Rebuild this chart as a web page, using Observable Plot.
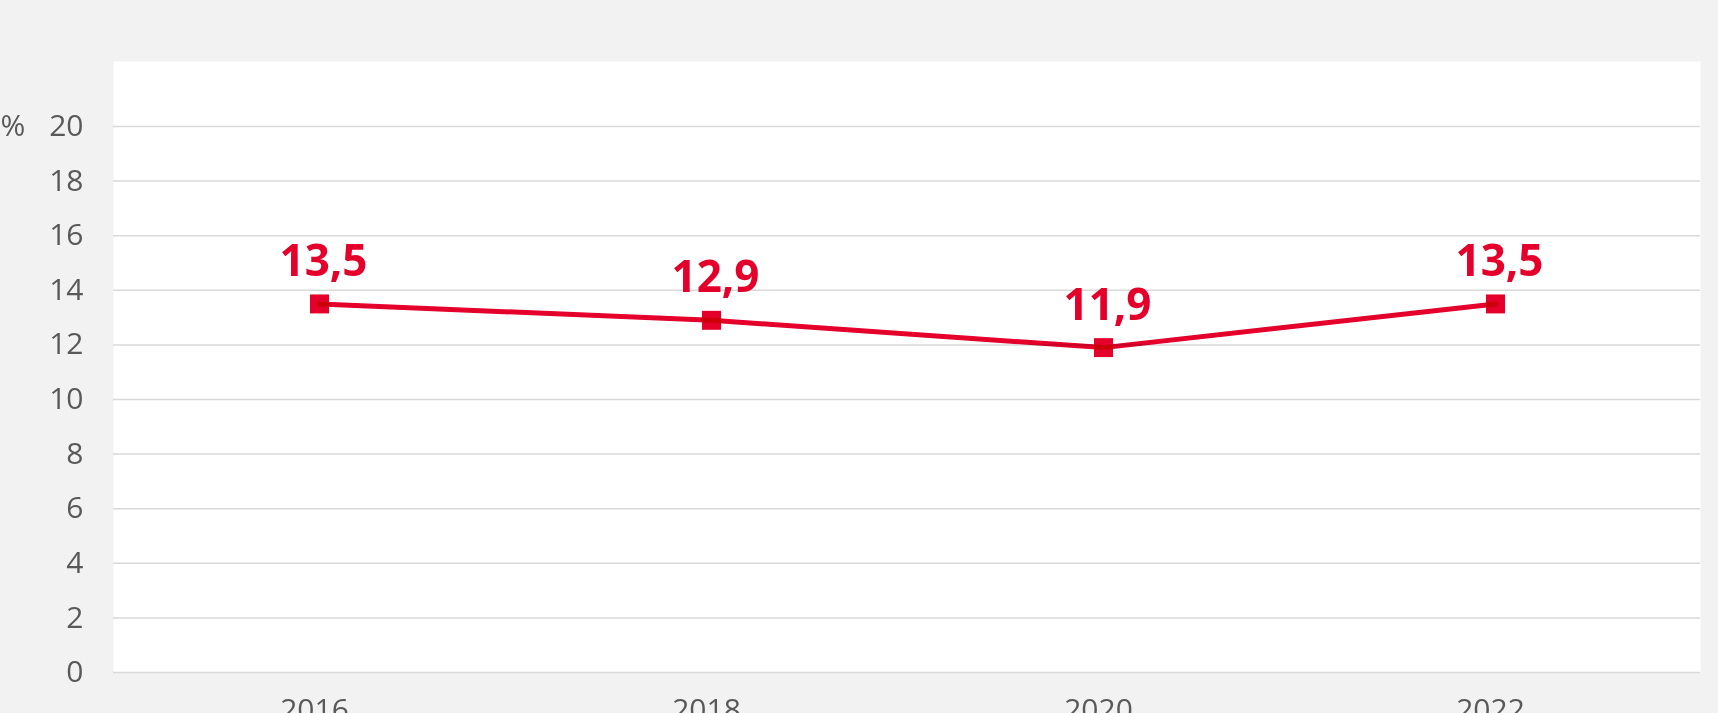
<!DOCTYPE html>
<html>
<head>
<meta charset="utf-8">
<script src="https://cdn.jsdelivr.net/npm/d3@7"></script>
<script src="https://cdn.jsdelivr.net/npm/@observablehq/plot@0.6"></script>
<style>
  html, body { margin: 0; padding: 0; background: #f2f2f2; overflow: hidden; }
  #chart svg { display: block; }
</style>
</head>
<body>
<div id="chart"></div>
<script>
const years = ["2016", "2018", "2020", "2022"];
const values = [13.5, 12.9, 11.9, 13.5];
const labels = ["13,5", "12,9", "11,9", "13,5"];
const yTicks = [0, 2, 4, 6, 8, 10, 12, 14, 16, 18, 20];
const unitLabel = ["%"];

const data = years.map((year, i) => ({year, value: values[i], label: labels[i]}));
const red = "#e4002b";

const chart = Plot.plot({
  width: 1718,
  height: 740,
  marginLeft: 113,
  marginRight: 18,
  marginTop: 61,
  marginBottom: 68,
  style: {background: "#f2f2f2", fontFamily: "'Open Sans', sans-serif", color: "#595959", overflow: "visible"},
  x: {type: "point", domain: years, padding: 0.52, label: null},
  y: {domain: [0, 22.38], label: null},
  marks: [
    Plot.frame({fill: "white", stroke: null}),
    Plot.ruleY(yTicks, {stroke: "#d9d9d9", strokeWidth: 1.5}),
    Plot.axisY({ticks: yTicks, tickSize: 0, tickPadding: 30, fontSize: 30, label: null, tickFormat: d => String(d)}),
    Plot.axisX({tickSize: 0, tickPadding: 26, fontSize: 30, label: null, dx: -5}),
    Plot.text(unitLabel, {y: 20, frameAnchor: "left", textAnchor: "start", dx: -113, fontSize: 30, fill: "#595959", text: d => d}),
    Plot.dot(data, {x: "year", y: "value", symbol: "square", r: 10.7, fill: red, stroke: null}),
    Plot.line(data, {x: "year", y: "value", stroke: red, strokeWidth: 5, mixBlendMode: "multiply"}),
    Plot.text(data, {x: "year", y: "value", text: "label", fill: red, fontSize: 44, fontWeight: "bold", lineAnchor: "bottom", dy: -28, dx: 4})
  ]
});
document.getElementById("chart").appendChild(chart);
</script>
</body>
</html>
